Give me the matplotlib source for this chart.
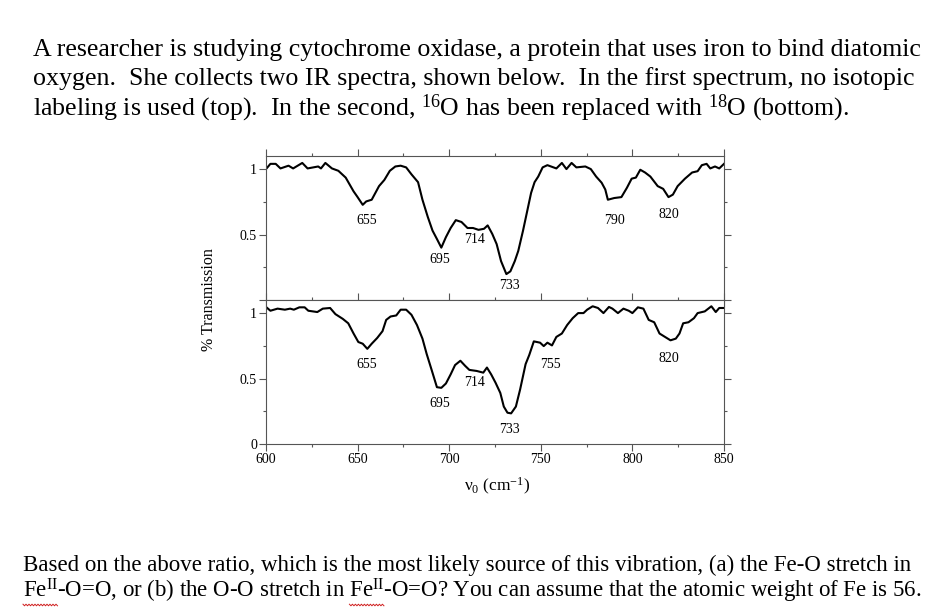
import numpy as np
import matplotlib.pyplot as plt
from matplotlib.ticker import MultipleLocator
from matplotlib.lines import Line2D

plt.rcParams['font.family'] = ['Liberation Serif', 'DejaVu Serif']
plt.rcParams['mathtext.fontset'] = 'custom'
plt.rcParams['mathtext.rm'] = 'Liberation Serif'
plt.rcParams['mathtext.it'] = 'Liberation Serif:italic'
plt.rcParams['mathtext.bf'] = 'Liberation Serif:bold'

# spectrum with no isotope labeling (top)
top_wn = [600, 602.4, 605.3, 607.9, 612.3, 614.8, 619.8, 622.7, 628.5, 630, 632.4, 636, 639.5,
          643.5, 647.8, 649.8, 652.8, 654.7, 657.7, 661.7, 664.6, 667.6, 670.6, 673.5, 676.5,
          679.4, 683, 685.4, 688.3, 690.9, 693.3, 695.7, 698.2, 700.8, 703.6, 706.7, 710, 713,
          716, 719, 721, 723.5, 725.9, 728.3, 731.2, 733.4, 735.8, 737.7, 740.3, 742.7, 744.7,
          746.6, 748.6, 751, 753.6, 758.5, 761.5, 764, 766.8, 769.4, 774.3, 777.3, 780.2, 783.2,
          785.2, 786.6, 790.1, 794, 797, 799.6, 801.9, 804.3, 806.9, 809.8, 813.8, 816.8, 819.7,
          822.1, 824.7, 828.7, 832.6, 835.6, 837.9, 840.5, 842.5, 845.1, 847.4, 850]
top_T = [1.0, 1.04, 1.04, 1.005, 1.026, 1.005, 1.047, 1.005, 1.02, 1.005, 1.047, 1.005, 0.987,
         0.935, 0.83, 0.79, 0.727, 0.753, 0.766, 0.87, 0.917, 0.987, 1.02, 1.026, 1.013,
         0.96, 0.9, 0.766, 0.635, 0.53, 0.466, 0.4, 0.48, 0.55, 0.61, 0.596, 0.55, 0.55,
         0.536, 0.544, 0.57, 0.505, 0.427, 0.297, 0.198, 0.219, 0.297, 0.375, 0.53, 0.687, 0.818,
         0.9, 0.943, 1.013, 1.03, 1.005, 1.047, 1.0, 1.047, 1.013, 1.02, 1.0, 0.943, 0.896,
         0.844, 0.766, 0.779, 0.786, 0.857, 0.927, 0.935, 0.995, 0.974, 0.943, 0.87, 0.849, 0.786,
         0.805, 0.87, 0.927, 0.974, 0.984, 1.03, 1.04, 1.005, 1.02, 1.005, 1.04]

# spectrum with 18O (bottom)
bot_wn = [600, 602.4, 606.3, 610.3, 613.2, 615.2, 618.2, 621.1, 623.1, 628, 631, 635, 637.9,
          641.9, 644.9, 647.8, 650.4, 652.8, 655.3, 657.7, 660.7, 663.6, 665.6, 668, 671.1,
          673.5, 676.5, 679.4, 682.4, 685.4, 687.7, 690.3, 693.3, 695.7, 698.2, 700.8, 703.2,
          706.1, 708.7, 711, 715, 718.6, 720.6, 722.9, 725.3, 727.9, 729.8, 731.8, 733.8, 736.4,
          738.7, 741.7, 743.7, 746.2, 749.6, 751.6, 753.6, 756.1, 758.5, 761.5, 764.4, 767.4,
          770.4, 773.3, 775.3, 778.3, 781.2, 784.2, 787.2, 789.1, 792.1, 795.1, 798, 800, 803,
          806, 808.9, 811.9, 814.8, 817.8, 820.8, 823.7, 825.7, 827.7, 830.6, 833.6, 835.6,
          839.5, 843.1, 845.5, 847.4, 850]
bot_T = [1.047, 1.018, 1.034, 1.026, 1.034, 1.026, 1.044, 1.044, 1.018, 1.008, 1.034, 1.039, 0.992,
         0.956, 0.922, 0.844, 0.779, 0.766, 0.727, 0.766, 0.81, 0.862, 0.948, 0.974, 0.982,
         1.026, 1.026, 0.987, 0.909, 0.805, 0.688, 0.571, 0.434, 0.429, 0.462, 0.532, 0.603,
         0.636, 0.597, 0.566, 0.558, 0.545, 0.584, 0.532, 0.468, 0.39, 0.286, 0.239, 0.234, 0.286,
         0.416, 0.61, 0.68, 0.784, 0.774, 0.748, 0.774, 0.753, 0.818, 0.844, 0.909, 0.961,
         1.0, 1.0, 1.026, 1.052, 1.039, 1.0, 1.047, 1.034, 1.0, 1.034, 1.018, 1.0, 1.044,
         1.034, 0.948, 0.93, 0.844, 0.818, 0.792, 0.805, 0.844, 0.922, 0.93, 0.961, 1.0,
         1.013, 1.052, 1.008, 1.039, 1.039]

top_peaks = [655, 695, 714, 733, 790, 820]
top_peak_y = [0.61, 0.31, 0.46, 0.11, 0.61, 0.65]
bot_peaks = [655, 695, 714, 733, 755, 820]
bot_peak_y = [0.61, 0.31, 0.47, 0.11, 0.61, 0.65]

question_lines = [
    'A researcher is studying cytochrome oxidase, a protein that uses iron to bind diatomic',
    'oxygen.  She collects two IR spectra, shown below.  In the first spectrum, no isotopic',
    'labeling is used (top).  In the second, $^{16}$O has been replaced with $^{18}$O (bottom).',
]
followup_lines = [
    'Based on the above ratio, which is the most likely source of this vibration, (a) the Fe-O stretch in',
    'Fe$^{\\mathrm{II}}$-O=O, or (b) the O-O stretch in Fe$^{\\mathrm{II}}$-O=O? You can assume that the atomic weight of Fe is 56.',
]

W, H = 927, 611
fig = plt.figure(figsize=(W / 100, H / 100), dpi=100)

Q_SIZE = 18.6
F_SIZE = 16.45


def px_box(x0, y0, x1, y1):
    return [x0 / W, 1 - y1 / H, (x1 - x0) / W, (y1 - y0) / H]


def style_axis(ax):
    ax.set_xlim(600, 850)
    ax.set_ylim(0, 1.1)
    ax.xaxis.set_major_locator(MultipleLocator(50))
    ax.xaxis.set_minor_locator(MultipleLocator(25))
    ax.yaxis.set_minor_locator(MultipleLocator(0.25))
    for s in ax.spines.values():
        s.set_color('#555555')
        s.set_linewidth(0.8)
    ax.tick_params(which='both', direction='out', top=True, right=True, color='#555555',
                   width=0.8, labelsize=10, pad=1.5)
    ax.tick_params(which='major', length=5)
    ax.tick_params(which='minor', length=2.5)


ax_top = fig.add_axes(px_box(266, 156, 724, 300))
ax_bot = fig.add_axes(px_box(266, 300, 724, 444))

for ax, wn, T, peaks, py in [(ax_top, top_wn, top_T, top_peaks, top_peak_y),
                             (ax_bot, bot_wn, bot_T, bot_peaks, bot_peak_y)]:
    style_axis(ax)
    ax.plot(wn, T, color='black', lw=1.5)
    for p, y in zip(peaks, py):
        ax.text(p, y, str(p), ha='center', va='center', fontsize=10)

ax_top.set_yticks([0, 0.5, 1])
ax_top.set_yticklabels(['', '0.5', '1'])
ax_top.set_xticklabels([])
ax_bot.set_yticks([0, 0.5, 1])
ax_bot.set_yticklabels(['0', '0.5', '1'])

fig.text(209 / W, 1 - 300 / H, '% Transmission', rotation=90, ha='center', va='center', fontsize=11.5)
fig.text(497 / W, 1 - 486 / H, '\u03bd$_0$ (cm$^{-1}$)', ha='center', va='center', fontsize=12.5)

for i, line in enumerate(question_lines):
    fig.text(33 / W, 1 - (56 + 29.5 * i) / H, line, ha='left', va='baseline', fontsize=Q_SIZE)

for i, line in enumerate(followup_lines):
    fig.text(23 / W, 1 - (571 + 26.5 * i) / H, line, ha='left', va='baseline', fontsize=F_SIZE)

# red spell-check squiggles under the Fe(II) words
renderer = fig.canvas.get_renderer()


def text_width(s, size):
    t = fig.text(0, 0, s, fontsize=size)
    w = t.get_window_extent(renderer).width
    t.remove()
    return w


fe = 'Fe$^{\\mathrm{II}}$'
line2 = followup_lines[1]
wfe = text_width(fe, F_SIZE)
x_base = 23
starts = [0, text_width(line2[:line2.index(fe, 5) + len(fe)], F_SIZE) - wfe]
for s0 in starts:
    xs = np.arange(x_base + s0, x_base + s0 + wfe, 1.5)
    ys = H - 605 + np.where(np.arange(len(xs)) % 2 == 0, 0.8, -0.8)
    fig.add_artist(Line2D(xs / W, ys / H, color='#d02020', lw=0.7, transform=fig.transFigure))

fig.savefig('out.png', dpi=100)
